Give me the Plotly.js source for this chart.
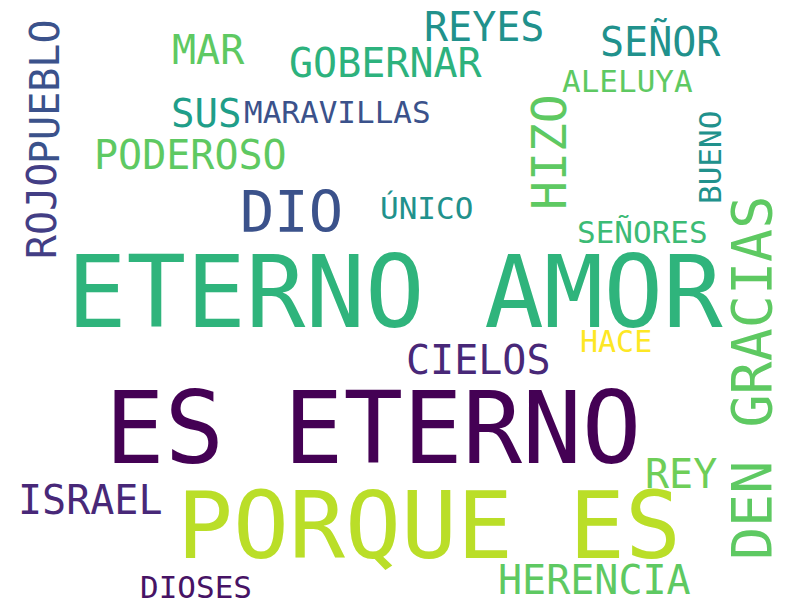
<!DOCTYPE html>
<html>
<head>
<meta charset="utf-8">
<script src="https://cdn.plot.ly/plotly-3.0.1.min.js"></script>
<style>
  html, body { margin: 0; padding: 0; background: #fff; }
  #cloud { width: 800px; height: 600px; }
</style>
</head>
<body>
<div id="cloud"></div>
<script>
var words = ['ETERNO AMOR', 'ES ETERNO', 'PORQUE ES', 'DEN GRACIAS', 'HIZO', 'PUEBLO', 'ROJO',
    'DIO', 'REYES', 'SEÑOR', 'MAR', 'GOBERNAR', 'ALELUYA', 'SUS', 'MARAVILLAS', 'PODEROSO',
    'BUENO', 'ÚNICO', 'SEÑORES', 'HACE', 'CIELOS', 'REY', 'ISRAEL', 'HERENCIA', 'DIOSES'];
var xPos = [395, 373, 429, 752, 549, 45, 42, 291, 484, 660, 208, 386, 627, 206, 337, 190,
    710, 426, 642, 616, 478, 681, 90, 594, 196];
var yPos = [292, 428, 526, 378, 152, 92, 211, 212, 27, 41, 50, 63, 81, 113, 112, 155,
    158, 208, 232, 341, 360, 474, 500, 580, 587];
var sizes = [99, 99, 93, 55, 48, 40, 40, 57, 40, 40, 40, 40, 31, 39, 31, 40,
    31, 31, 31, 30, 40, 40, 40, 40, 31];
var vertical = [0, 0, 0, 1, 1, 1, 1, 0, 0, 0, 0, 0, 0, 0, 0, 0, 1, 0, 0, 0, 0, 0, 0, 0, 0];
var colors = ['#2fb47c', '#440154', '#bade28', '#5ec962', '#5ec962', '#3b528b', '#433e85',
    '#3b528b', '#21918c', '#21918c', '#5ec962', '#2db27d', '#5ec962', '#1f9e89', '#3b528b', '#5ec962',
    '#21918c', '#21918c', '#3cbb75', '#fde725', '#482878', '#6ece58', '#482878', '#5ec962', '#471365'];

var annotations = words.map(function (w, i) {
    return {
        x: xPos[i], y: yPos[i], xref: 'x', yref: 'y',
        text: w, showarrow: false,
        xanchor: 'center', yanchor: 'middle',
        textangle: vertical[i] ? -90 : 0,
        font: { family: 'DejaVu Sans Mono', size: sizes[i], color: colors[i] }
    };
});

var layout = {
    width: 800, height: 600,
    margin: { l: 0, r: 0, t: 0, b: 0 },
    paper_bgcolor: '#fff', plot_bgcolor: '#fff',
    xaxis: { range: [0, 800], visible: false, fixedrange: true },
    yaxis: { range: [600, 0], visible: false, fixedrange: true },
    showlegend: false,
    annotations: annotations
};

Plotly.newPlot('cloud', [{ x: [], y: [], type: 'scatter', mode: 'markers' }], layout,
    { displayModeBar: false, staticPlot: true });
</script>
</body>
</html>
